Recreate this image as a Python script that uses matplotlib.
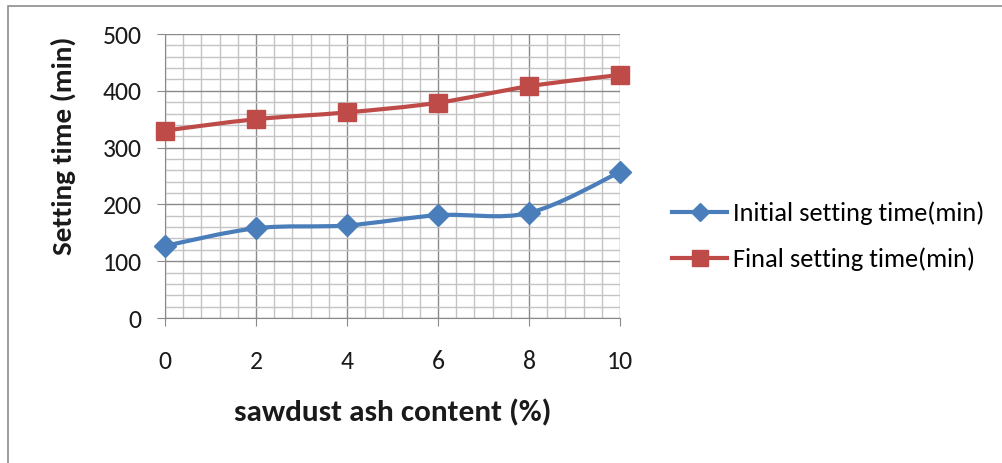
import numpy as np
import matplotlib
matplotlib.use("Agg")
import matplotlib.pyplot as plt
from matplotlib.path import Path
from matplotlib.patches import PathPatch, Rectangle
from matplotlib.lines import Line2D
from matplotlib.ticker import MultipleLocator

# sawdust ash content (%) and setting times (min)
ash_content = [0, 2, 4, 6, 8, 10]
initial_time = [127, 158, 163, 181, 185, 257]
final_time = [330, 350, 362, 379, 408, 428]

series_names = ["Initial setting time(min)", "Final setting time(min)"]
blue = "#4A7EBB"
red = "#BE4B48"

plt.rcParams["font.family"] = ["Carlito", "Liberation Sans", "DejaVu Sans"]


def smooth_path(xs, ys):
    # Catmull-Rom style smoothing expressed as cubic bezier segments
    pts = np.column_stack([xs, ys]).astype(float)
    n = len(pts)
    verts = [pts[0]]
    codes = [Path.MOVETO]
    for i in range(n - 1):
        p0 = pts[i - 1] if i > 0 else pts[i]
        p1 = pts[i]
        p2 = pts[i + 1]
        p3 = pts[i + 2] if i + 2 < n else pts[i + 1]
        c1 = p1 + (p2 - p0) / 6.0
        c2 = p2 - (p3 - p1) / 6.0
        verts += [c1, c2, p2]
        codes += [Path.CURVE4] * 3
    return Path(verts, codes)


fig = plt.figure(figsize=(10.02, 4.63), dpi=100)
fig.patch.set_facecolor("white")

# outer chart border
fig.add_artist(Rectangle((8 / 1002, -0.05), 1.2, 1 - 6 / 463 + 0.05,
                         transform=fig.transFigure, fill=False,
                         edgecolor="#8c8c8c", linewidth=1.2))

ax = fig.add_axes([165 / 1002, 1 - 318 / 463, 455 / 1002, 284 / 463])
ax.set_xlim(0, 10)
ax.set_ylim(0, 500)

ax.xaxis.set_major_locator(MultipleLocator(2))
ax.xaxis.set_minor_locator(MultipleLocator(0.4))
ax.yaxis.set_major_locator(MultipleLocator(100))
ax.yaxis.set_minor_locator(MultipleLocator(20))
ax.grid(which="minor", color="#c4c4c4", linewidth=1.0)
ax.grid(which="major", color="#8a8a8a", linewidth=1.0)
ax.set_axisbelow(True)

for side in ["top", "right"]:
    ax.spines[side].set_visible(False)
for side in ["left", "bottom"]:
    ax.spines[side].set_color("#8a8a8a")

ax.tick_params(which="major", length=6, color="#8a8a8a", labelsize=18.5,
               labelcolor="#1a1a1a")
ax.tick_params(which="minor", length=0)
ax.tick_params(axis="x", pad=17)
ax.tick_params(axis="y", pad=11)

for ys, color, marker, ms in [(initial_time, blue, "D", 11),
                              (final_time, red, "s", 13)]:
    ax.add_patch(PathPatch(smooth_path(ash_content, ys), facecolor="none",
                           edgecolor=color, linewidth=3, zorder=3,
                           capstyle="round", joinstyle="round"))
    ax.plot(ash_content, ys, linestyle="none", marker=marker, markersize=ms,
            color=color, zorder=4, clip_on=False)

ax.set_xlabel("sawdust ash content (%)", fontsize=22.5, fontweight="bold",
              color="#1a1a1a", labelpad=19)
ax.set_ylabel("Setting time (min)", fontsize=21, fontweight="bold",
              color="#1a1a1a")
ax.yaxis.set_label_coords(-0.195, 0.605)

handles = [
    Line2D([], [], color=blue, linewidth=3, marker="D", markersize=9),
    Line2D([], [], color=red, linewidth=3, marker="s", markersize=12),
]
fig.legend(handles, series_names, loc="center left",
           bbox_to_anchor=(672 / 1002, 1 - 236 / 463), frameon=False,
           fontsize=19, handlelength=2.1, handletextpad=0.2,
           labelspacing=0.85, borderpad=0, borderaxespad=0)

fig.savefig("out.png", dpi=100)
